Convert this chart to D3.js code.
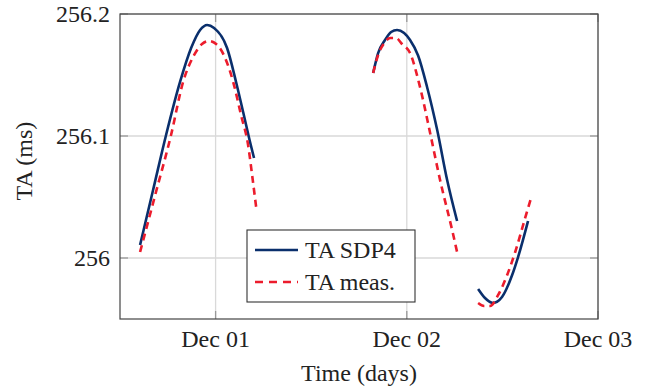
<!DOCTYPE html>
<html>
<head>
<meta charset="utf-8">
<script src="https://cdn.jsdelivr.net/npm/d3@7"></script>
<style>
  html, body { margin: 0; padding: 0; background: #fff; }
  svg { display: block; }
</style>
</head>
<body>
<script>
// ---- Data (time in days relative to Dec 01 00:00, value in ms) ----
const sdp4Seg1T = [-0.395, -0.327, -0.259, -0.186, -0.128, -0.081, -0.044, -0.008, 0.060, 0.107, 0.144, 0.184, 0.201];
const sdp4Seg1V = [256.0107, 256.0557, 256.1008, 256.1443, 256.1721, 256.1869, 256.1910, 256.1885, 256.1721, 256.1443, 256.1197, 256.0926, 256.0820];
const measSeg1T = [-0.395, -0.316, -0.233, -0.170, -0.112, -0.071, -0.034, 0.003, 0.050, 0.092, 0.133, 0.170, 0.191, 0.212];
const measSeg1V = [256.0049, 256.0516, 256.1008, 256.1443, 256.1664, 256.1754, 256.1779, 256.1754, 256.1639, 256.1443, 256.1172, 256.0926, 256.0680, 256.0418];

const sdp4Seg2T = [0.824, 0.850, 0.886, 0.918, 0.949, 0.986, 1.017, 1.059, 1.106, 1.159, 1.211, 1.263];
const sdp4Seg2V = [256.1516, 256.1680, 256.1787, 256.1852, 256.1869, 256.1844, 256.1787, 256.1660, 256.1402, 256.1049, 256.0639, 256.0303];
const measSeg2T = [0.824, 0.850, 0.882, 0.913, 0.944, 0.975, 1.017, 1.069, 1.122, 1.174, 1.237, 1.263];
const measSeg2V = [256.1516, 256.1664, 256.1762, 256.1803, 256.1803, 256.1754, 256.1680, 256.1402, 256.1025, 256.0639, 256.0230, 256.0049];

const sdp4Seg3T = [1.373, 1.409, 1.451, 1.498, 1.551, 1.582, 1.634];
const sdp4Seg3V = [255.9746, 255.9672, 255.9631, 255.9680, 255.9861, 256.0008, 256.0303];
const measSeg3T = [1.373, 1.404, 1.436, 1.478, 1.525, 1.567, 1.619, 1.650];
const measSeg3V = [255.9631, 255.9607, 255.9607, 255.9697, 255.9861, 256.0049, 256.0328, 256.0492];

const yTicks = [256, 256.1, 256.2];
const yTickLabels = ["256", "256.1", "256.2"];
const xTickDays = [0, 1, 2];
const xTickLabels = ["Dec 01", "Dec 02", "Dec 03"];
const seriesNames = ["TA SDP4", "TA meas."];
const xTitle = "Time (days)";
const yTitle = "TA (ms)";

// ---- Setup ----
const W = 649, H = 388;
const M = { left: 120, right: 51, top: 14, bottom: 69 };
const base = new Date(2020, 11, 1, 0, 0, 0);
const toDate = d => new Date(base.getTime() + d * 86400000);
const FONT = "Liberation Serif";
const TXT = "#222";

const x = d3.scaleTime().domain([toDate(-0.5), toDate(2)]).range([M.left, W - M.right]);
const y = d3.scaleLinear().domain([255.95, 256.2]).range([H - M.bottom, M.top]);

const svg = d3.select("body").append("svg").attr("width", W).attr("height", H);

const blue = "#0a2f6c", red = "#ec1c2c";

// grid
const gridCol = "#d9d9d9";
svg.append("g").selectAll("line").data(xTickDays).join("line")
  .attr("x1", d => x(toDate(d))).attr("x2", d => x(toDate(d)))
  .attr("y1", y.range()[0]).attr("y2", y.range()[1])
  .attr("stroke", gridCol).attr("stroke-width", 1.3);
svg.append("g").selectAll("line").data(yTicks).join("line")
  .attr("x1", M.left).attr("x2", W - M.right)
  .attr("y1", d => y(d)).attr("y2", d => y(d))
  .attr("stroke", gridCol).attr("stroke-width", 1.3);

// inner ticks on all sides
const tickCol = "#999", tl = 8;
const tg = svg.append("g").attr("stroke", tickCol).attr("stroke-width", 1.3);
xTickDays.forEach(d => {
  const px = x(toDate(d));
  tg.append("line").attr("x1", px).attr("x2", px).attr("y1", y.range()[0]).attr("y2", y.range()[0] - tl);
  tg.append("line").attr("x1", px).attr("x2", px).attr("y1", y.range()[1]).attr("y2", y.range()[1] + tl);
});
yTicks.forEach(v => {
  const py = y(v);
  tg.append("line").attr("x1", M.left).attr("x2", M.left + tl).attr("y1", py).attr("y2", py);
  tg.append("line").attr("x1", W - M.right).attr("x2", W - M.right - tl).attr("y1", py).attr("y2", py);
});

// lines
const line = d3.line().x(d => x(toDate(d[0]))).y(d => y(d[1])).curve(d3.curveMonotoneX);
const zip = (a, b) => a.map((t, i) => [t, b[i]]);
const sdp4 = [zip(sdp4Seg1T, sdp4Seg1V), zip(sdp4Seg2T, sdp4Seg2V), zip(sdp4Seg3T, sdp4Seg3V)];
const meas = [zip(measSeg1T, measSeg1V), zip(measSeg2T, measSeg2V), zip(measSeg3T, measSeg3V)];

const plot = svg.append("g");
sdp4.forEach(s => plot.append("path").attr("d", line(s)).attr("fill", "none")
  .attr("stroke", blue).attr("stroke-width", 2.6));
meas.forEach(s => plot.append("path").attr("d", line(s)).attr("fill", "none")
  .attr("stroke", red).attr("stroke-width", 2.6).attr("stroke-dasharray", "7,5"));

// frame
svg.append("rect").attr("x", M.left).attr("y", M.top)
  .attr("width", W - M.left - M.right).attr("height", H - M.top - M.bottom)
  .attr("fill", "none").attr("stroke", "#444").attr("stroke-width", 1.2);

// axis labels
const fs = 24;
svg.append("g").selectAll("text").data(xTickDays).join("text")
  .attr("x", d => x(toDate(d))).attr("y", 347)
  .attr("text-anchor", "middle").attr("font-size", fs)
  .attr("font-family", FONT).attr("fill", TXT)
  .text((d, i) => xTickLabels[i]);
svg.append("g").selectAll("text").data(yTicks).join("text")
  .attr("x", 110).attr("y", d => y(d)).attr("dy", "0.35em")
  .attr("text-anchor", "end").attr("font-size", fs)
  .attr("font-family", FONT).attr("fill", TXT)
  .text((d, i) => yTickLabels[i]);

svg.append("text").attr("x", 359).attr("y", 381).attr("text-anchor", "middle")
  .attr("font-size", fs).attr("font-family", FONT).attr("fill", TXT).text(xTitle);
svg.append("text").attr("transform", "translate(32,161) rotate(-90)")
  .attr("text-anchor", "middle").attr("font-size", fs)
  .attr("font-family", FONT).attr("fill", TXT).text(yTitle);

// legend
const lg = svg.append("g");
lg.append("rect").attr("x", 247).attr("y", 230).attr("width", 168).attr("height", 72)
  .attr("fill", "#fff").attr("stroke", "#333").attr("stroke-width", 1.1);
const rows = [{ name: seriesNames[0], col: blue, dash: null, yy: 250 },
              { name: seriesNames[1], col: red, dash: "8,6", yy: 282 }];
rows.forEach(r => {
  const l = lg.append("line").attr("x1", 255).attr("x2", 298).attr("y1", r.yy).attr("y2", r.yy)
    .attr("stroke", r.col).attr("stroke-width", 2.6);
  if (r.dash) l.attr("stroke-dasharray", r.dash);
  lg.append("text").attr("x", 305).attr("y", r.yy + 8).attr("font-size", fs)
    .attr("font-family", FONT).attr("fill", TXT).text(r.name);
});
</script>
</body>
</html>
